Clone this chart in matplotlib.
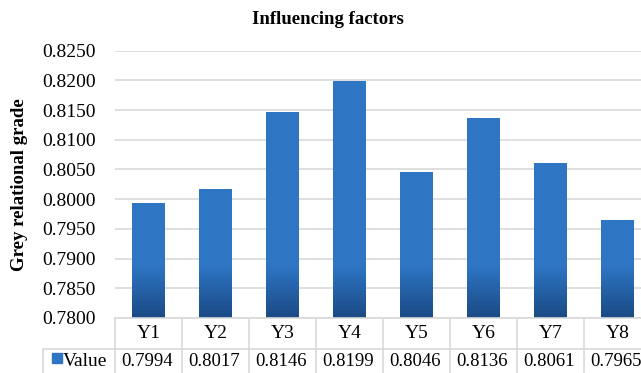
import matplotlib
matplotlib.use("Agg")
import matplotlib.pyplot as plt
import matplotlib.transforms as mtransforms
import numpy as np
from matplotlib.colors import LinearSegmentedColormap

categories = ["Y1", "Y2", "Y3", "Y4", "Y5", "Y6", "Y7", "Y8"]
values = [0.7994, 0.8017, 0.8146, 0.8199, 0.8046, 0.8136, 0.8061, 0.7965]
series_name = "Value"
y_ticks = [0.7800, 0.7850, 0.7900, 0.7950, 0.8000, 0.8050, 0.8100, 0.8150, 0.8200, 0.8250]

matplotlib.rcParams['font.family'] = 'Liberation Serif'
bar_color = "#2E75C4"
dark_color = "#1A4A85"
grid_color = "#D9D9D9"

W, H = 641, 373
cell = 67.0
fig = plt.figure(figsize=(W / 100, H / 100), dpi=100)
ax = fig.add_axes([115 / W, 1 - 318 / H, 1 - 115 / W, (318 - 50.7) / H])

x = np.arange(len(categories))
bar_w = 0.5
bars = ax.bar(x, values, width=bar_w, color=bar_color, zorder=2)

# darker shading towards the base of each bar (thin stacked slices)
cmap = LinearSegmentedColormap.from_list("fade", [dark_color, bar_color])
depth = 0.0090
n = 40
for i in range(n):
    ax.bar(x, depth / n, bottom=y_ticks[0] + i * depth / n, width=bar_w,
           color=cmap(i / (n - 1)), zorder=3, linewidth=0)

ax.set_xlim(-0.5, -0.5 + (W - 115) / cell)
ax.set_ylim(y_ticks[0], y_ticks[-1])
ax.set_yticks(y_ticks)
ax.set_yticklabels([f"{t:.4f}" for t in y_ticks], fontsize=14)
ax.set_xticks([])
ax.grid(axis="y", color=grid_color, linewidth=1.2, zorder=0)
ax.tick_params(axis="y", length=0, pad=14)
for s in ax.spines.values():
    s.set_visible(False)

fig.text(328 / W, 1 - 20 / H, "Influencing factors", ha="center", va="center",
         fontsize=13.5, fontweight="bold")
fig.text(20 / W, 1 - 185 / H, "Grey relational grade", ha="center", va="center",
         rotation=90, fontsize=13.5, fontweight="bold")

# data table below the axes
tr = mtransforms.blended_transform_factory(ax.transData, fig.transFigure)
y_top, y_mid, y_bot = 1 - 318 / H, 1 - 349 / H, 0.0
lkw = dict(color=grid_color, linewidth=1.2, clip_on=False)
fig.add_artist(plt.Line2D([115 / W, 1], [y_top, y_top], transform=fig.transFigure, **lkw))
fig.add_artist(plt.Line2D([43 / W, 1], [y_mid, y_mid], transform=fig.transFigure, **lkw))
fig.add_artist(plt.Line2D([43 / W, 43 / W], [y_mid, y_bot], transform=fig.transFigure, **lkw))
for b in np.arange(len(categories) + 1) - 0.5:
    fig.add_artist(plt.Line2D([b, b], [y_top, y_bot], transform=tr, **lkw))

row1_y = 1 - 333 / H
row2_y = 1 - 361 / H
for xi, cat, val in zip(x, categories, values):
    fig.text(xi, row1_y, cat, transform=tr, ha="center", va="center", fontsize=14)
    fig.text(xi - 0.02, row2_y, f"{val:.4f}", transform=tr, ha="center", va="center", fontsize=13.5)

fig.add_artist(plt.Rectangle((52 / W, 1 - 363 / H), 10 / W, 10 / H, color=bar_color,
                             transform=fig.transFigure))
fig.text(63 / W, row2_y, series_name, ha="left", va="center", fontsize=14)

fig.savefig("out.png", dpi=100)
